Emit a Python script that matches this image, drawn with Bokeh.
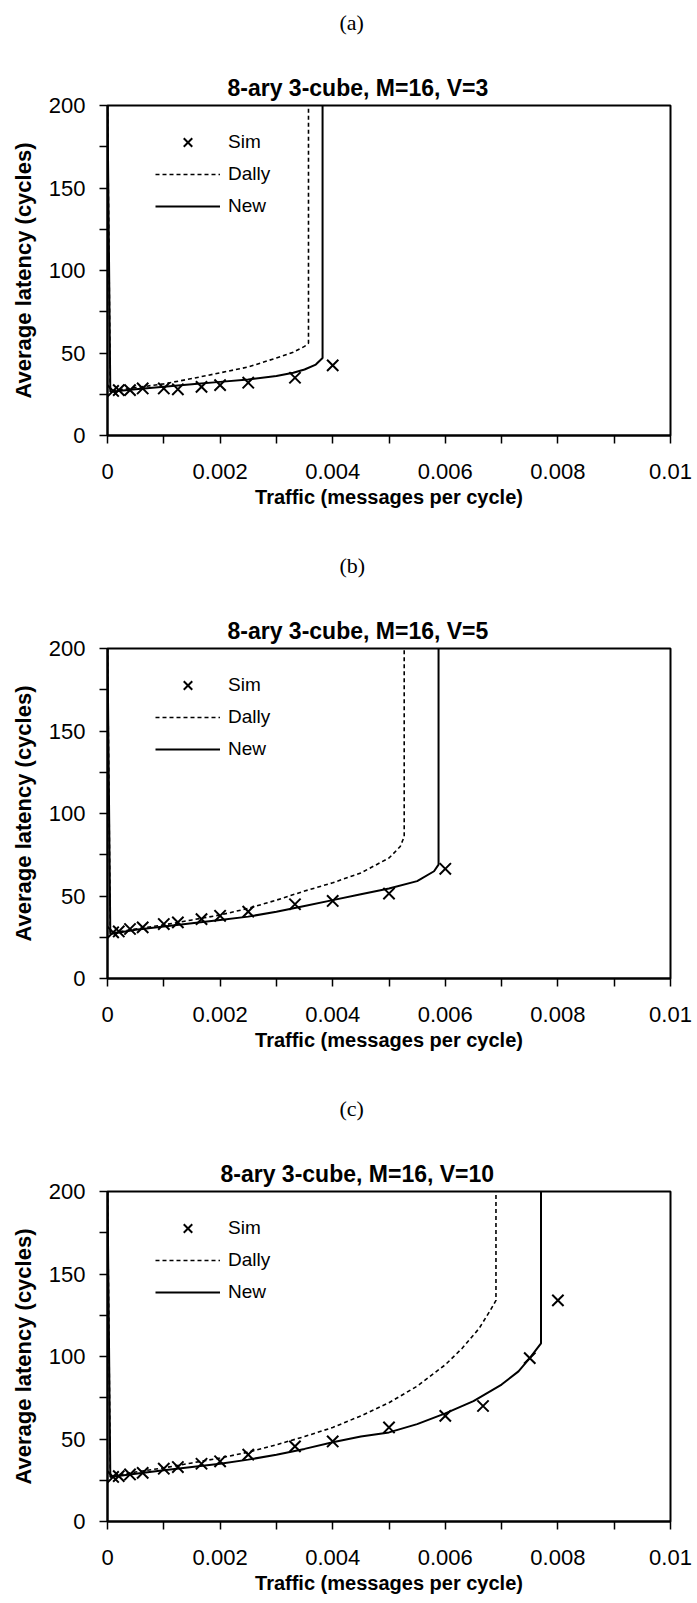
from bokeh.plotting import figure
from bokeh.layouts import column
from bokeh.models import Legend, LegendItem, FixedTicker, Range1d, Title
from bokeh.embed import file_html
from bokeh.resources import INLINE

# ---------------- data ----------------
captions = ["(a)", "(b)", "(c)"]
titles = ["8-ary 3-cube, M=16, V=3", "8-ary 3-cube, M=16, V=5", "8-ary 3-cube, M=16, V=10"]

x_ticks = [0, 0.002, 0.004, 0.006, 0.008, 0.01]
x_tick_labels = ["0", "0.002", "0.004", "0.006", "0.008", "0.01"]
x_minor = [0.001, 0.003, 0.005, 0.007, 0.009]
y_ticks = [0, 50, 100, 150, 200]
y_minor = [25, 75, 125, 175]

# (a) V=3
sim_x_a = [0.0001, 0.0002, 0.0004, 0.000625, 0.001, 0.00125, 0.00167, 0.002, 0.0025, 0.00333, 0.004]
sim_y_a = [27, 27.5, 27.5, 28.5, 28.5, 28, 29.5, 30.5, 32, 35, 42.5]
dally_x_a = [0, 0.00005, 0.0005, 0.001, 0.0015, 0.002, 0.0025, 0.003, 0.0033, 0.0035, 0.00357, 0.00357]
dally_y_a = [200, 27, 29, 31.3, 34.5, 38, 41.5, 47, 50.5, 54, 56, 200]
new_x_a = [0, 0.00005, 0.0005, 0.001, 0.0015, 0.002, 0.0025, 0.003, 0.0033, 0.0035, 0.0037, 0.00382, 0.00382]
new_y_a = [200, 26.5, 28, 29.5, 31, 32.5, 34, 36, 38, 40, 43, 47, 200]

# (b) V=5
sim_x_b = [0.0001, 0.0002, 0.0004, 0.000625, 0.001, 0.00125, 0.00167, 0.002, 0.0025, 0.00333, 0.004, 0.005, 0.006]
sim_y_b = [28, 28.5, 30, 31, 33, 34, 36, 38, 40.5, 45, 47, 51.5, 66.5]
dally_x_b = [0, 0.00005, 0.0005, 0.001, 0.0015, 0.002, 0.0025, 0.003, 0.0035, 0.004, 0.0045, 0.005, 0.0052, 0.00527, 0.00527]
dally_y_b = [200, 27.5, 30, 32.5, 35.5, 38.5, 42.5, 47.5, 53, 58, 64, 73, 80, 86, 200]
new_x_b = [0, 0.00005, 0.0005, 0.001, 0.0015, 0.002, 0.0025, 0.003, 0.0035, 0.004, 0.0045, 0.005, 0.0055, 0.0058, 0.00588, 0.00588]
new_y_b = [200, 27, 29.5, 31.5, 33.5, 35.5, 37.5, 40.5, 44, 47.5, 51, 54.5, 59, 65, 69, 200]

# (c) V=10
sim_x_c = [0.0001, 0.0002, 0.0004, 0.000625, 0.001, 0.00125, 0.00167, 0.002, 0.0025, 0.00333, 0.004, 0.005, 0.006, 0.00667, 0.0075, 0.008]
sim_y_c = [27, 27.5, 28.5, 29.5, 32, 33, 35, 36.5, 40.5, 45.5, 48.5, 57, 64, 70, 99, 134]
dally_x_c = [0, 0.00005, 0.0005, 0.001, 0.0015, 0.002, 0.0025, 0.003, 0.0035, 0.004, 0.0045, 0.005, 0.0055, 0.006, 0.0063, 0.0066, 0.0068, 0.0069, 0.0069]
dally_y_c = [200, 27.5, 30, 32.5, 35.5, 38.5, 42, 46.5, 51.5, 57, 64, 72, 82, 95, 105, 117, 128, 134, 200]
new_x_c = [0, 0.00005, 0.0005, 0.001, 0.0015, 0.002, 0.0025, 0.003, 0.0035, 0.004, 0.0045, 0.005, 0.0055, 0.006, 0.0065, 0.007, 0.0073, 0.0075, 0.0077, 0.0077]
new_y_c = [200, 27, 29, 31, 33, 35, 37.5, 40.5, 44, 48, 51.5, 54, 59, 65.5, 73, 83, 91, 99, 108, 200]

SANS = "Liberation Sans"
SERIF = "Liberation Serif"
FRAME_H = 330
FRAME_W = 563
LEFT = 107
TOP = 105


def make_panel(caption, title, title_offset, sx, sy, dx, dy, nx, ny, bottom):
    p = figure(width=697, height=TOP + FRAME_H + bottom, title=None,
               x_range=Range1d(0, 0.01), y_range=Range1d(0, 200),
               output_backend="svg", toolbar_location=None,
               min_border_left=LEFT, min_border_right=697 - LEFT - FRAME_W,
               min_border_top=TOP, min_border_bottom=bottom)
    p.grid.visible = False
    p.background_fill_color = "white"
    p.border_fill_color = "white"
    p.outline_line_color = "black"
    p.outline_line_width = 2
    p.outline_line_alpha = 1

    p.xaxis.ticker = FixedTicker(ticks=x_ticks, minor_ticks=x_minor)
    p.xaxis.major_label_overrides = {t: l for t, l in zip(x_ticks, x_tick_labels)}
    p.yaxis.ticker = FixedTicker(ticks=y_ticks, minor_ticks=y_minor)
    for ax in (p.xaxis, p.yaxis):
        ax.axis_line_color = "black"
        ax.axis_line_width = 2
        ax.major_tick_line_color = "black"
        ax.minor_tick_line_color = "black"
        ax.major_tick_line_width = 1.5
        ax.minor_tick_line_width = 1.5
        ax.major_tick_in = 0
        ax.minor_tick_in = 0
        ax.major_tick_out = 8
        ax.minor_tick_out = 8
        ax.major_label_text_font = SANS
        ax.major_label_text_font_size = "22px"
        ax.major_label_text_color = "black"
        ax.axis_label_text_font = SANS
        ax.axis_label_text_font_style = "bold"
        ax.axis_label_text_color = "black"
    p.xaxis.major_label_standoff = 20
    p.yaxis.major_label_standoff = 14
    p.xaxis.axis_label = "Traffic (messages per cycle)"
    p.xaxis.axis_label_text_font_size = "20px"
    p.xaxis.axis_label_standoff = 4
    p.yaxis.axis_label = "Average latency (cycles)"
    p.yaxis.axis_label_text_font_size = "22px"
    p.yaxis.axis_label_standoff = 10

    r_dally = p.line(dx, dy, line_color="black", line_width=1.6, line_dash="4 3")
    r_new = p.line(nx, ny, line_color="black", line_width=2)
    r_sim = p.scatter(sx, sy, marker="x", size=16, line_width=2, line_color="black")

    legend = Legend(items=[LegendItem(label="Sim", renderers=[r_sim]),
                           LegendItem(label="Dally", renderers=[r_dally]),
                           LegendItem(label="New", renderers=[r_new])],
                    location=(48, 214), glyph_width=65, glyph_height=30,
                    label_height=30, spacing=2, padding=0, margin=0,
                    label_standoff=8, border_line_alpha=0,
                    background_fill_alpha=0,
                    label_text_font=SANS, label_text_font_size="19px",
                    label_text_color="black")
    p.add_layout(legend)

    # chart title (closest to the frame), then the panel caption above it
    p.add_layout(Title(text=title, align="left", offset=title_offset, standoff=10,
                       vertical_align="bottom",
                       text_font=SANS, text_font_size="23px", text_font_style="bold",
                       text_color="black"), "above")
    p.add_layout(Title(text=caption + "\n ", align="left", offset=232, standoff=0,
                       vertical_align="bottom", text_line_height=1.3,
                       text_font=SERIF, text_font_size="22px", text_font_style="normal",
                       text_color="black"), "above")
    return p


pa = make_panel(captions[0], titles[0], 120, sim_x_a, sim_y_a, dally_x_a, dally_y_a, new_x_a, new_y_a, 108)
pb = make_panel(captions[1], titles[1], 120, sim_x_b, sim_y_b, dally_x_b, dally_y_b, new_x_b, new_y_b, 108)
pc = make_panel(captions[2], titles[2], 113, sim_x_c, sim_y_c, dally_x_c, dally_y_c, new_x_c, new_y_c, 82)

layout = column(pa, pb, pc, spacing=0)
open("out.html", "w").write(file_html(layout, INLINE))
